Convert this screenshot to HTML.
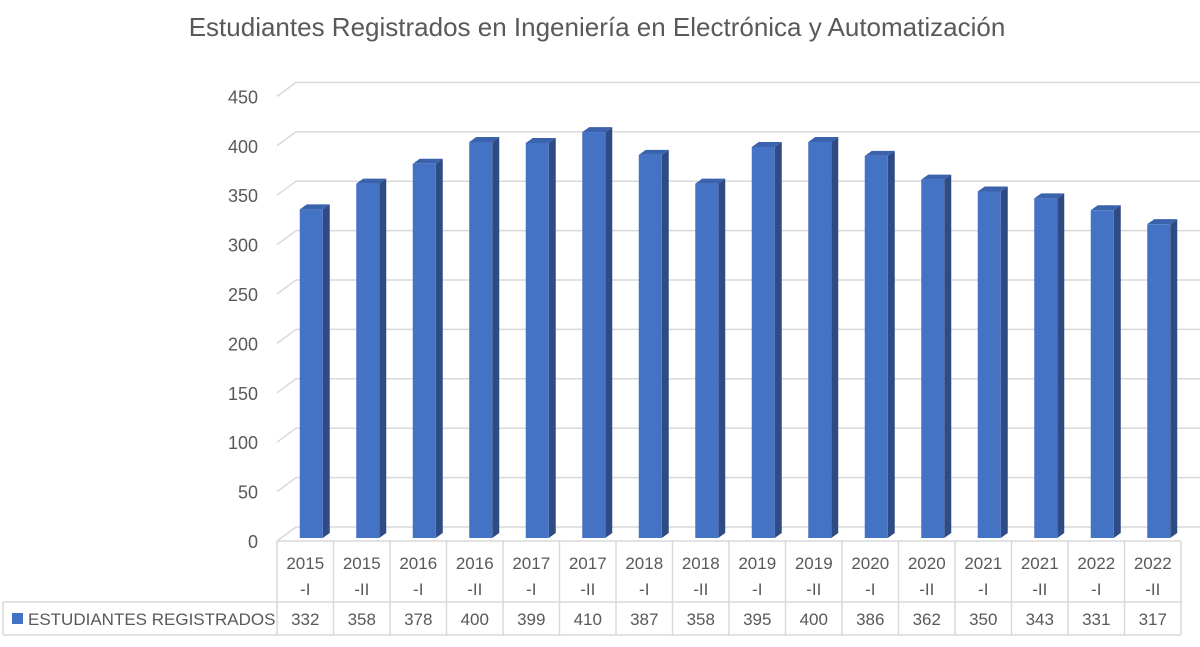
<!DOCTYPE html>
<html><head><meta charset="utf-8"><style>
body{margin:0;background:#fff;width:1200px;height:642px;overflow:hidden;font-family:"Liberation Sans",sans-serif}
</style></head><body>
<svg id="chart" width="1200" height="642" xmlns="http://www.w3.org/2000/svg" font-family="Liberation Sans, sans-serif">
<text x="597" y="36" text-anchor="middle" font-size="26" fill="#595959">Estudiantes Registrados en Ingeniería en Electrónica y Automatización</text>
<g id="grid"></g><g id="bars"></g><g id="table"></g>
</svg>
<script>
const categories=["2015|-I","2015|-II","2016|-I","2016|-II","2017|-I","2017|-II","2018|-I","2018|-II","2019|-I","2019|-II","2020|-I","2020|-II","2021|-I","2021|-II","2022|-I","2022|-II"];
const values=[332,358,378,400,399,410,387,358,395,400,386,362,350,343,331,317];
const yTicks=[0,50,100,150,200,250,300,350,400,450];
const seriesName="ESTUDIANTES REGISTRADOS";
const NS="http://www.w3.org/2000/svg";
function mk(t,a,p,txt){const e=document.createElementNS(NS,t);for(const k in a)e.setAttribute(k,a[k]);if(txt!==undefined)e.textContent=txt;p.appendChild(e);return e;}
const x0=277,colW=56.5,frontBase=541,backBase=527,pxPer=0.988,barBase=538,barScale=0.99;
const yFront=v=>frontBase-v*pxPer, yBack=v=>backBase-v*pxPer, yBar=v=>barBase-v*barScale;
const grid=document.getElementById('grid');
yTicks.forEach(t=>{
 const l=mk('polyline',{points:`${x0},${yFront(t)} ${x0+19},${yBack(t)} 1200,${yBack(t)}`,fill:'none',stroke:'#d9d9d9','stroke-width':1.5},grid);
 
 const tx=mk('text',{x:258,y:yFront(t)+7,'text-anchor':'end','font-size':18,fill:'#595959'},grid,String(t));
 
});
const bars=document.getElementById('bars');
values.forEach((v,i)=>{
 const cx=x0+colW*(i+0.5)+6, w=23, d=7, h=5, L=cx-w/2, top=yBar(v);
 const g=mk('g',{},bars);
 
 mk('polygon',{points:`${L+w},${top} ${L+w+d},${top-h} ${L+w+d},${barBase-h} ${L+w},${barBase}`,fill:'#2f4b83'},g);
 mk('polygon',{points:`${L},${top} ${L+d},${top-h} ${L+w+d},${top-h} ${L+w},${top}`,fill:'#3b63ad'},g);
 mk('rect',{x:L,y:top,width:w,height:barBase-top,fill:'#4472c4'},g);
});
const tb=document.getElementById('table');
const ln=(a,b,c,d)=>mk('line',{x1:a,y1:b,x2:c,y2:d,stroke:'#d9d9d9','stroke-width':1.5},tb);
const xEnd=x0+colW*16;
ln(x0,541,xEnd,541);ln(3,602,xEnd,602);ln(3,635,xEnd,635);ln(3,602,3,635);
for(let i=0;i<=16;i++)ln(x0+colW*i,541,x0+colW*i,635);
categories.forEach((c,i)=>{
 const cx=x0+colW*(i+0.5);const [a,b]=c.split('|');
 const t1=mk('text',{x:cx,y:569,'text-anchor':'middle','font-size':17,fill:'#595959'},tb,a);
 
 const t2=mk('text',{x:cx,y:595,'text-anchor':'middle','font-size':17,fill:'#595959'},tb,b);
 
 const t3=mk('text',{x:cx,y:625,'text-anchor':'middle','font-size':17,fill:'#595959'},tb,String(values[i]));
 
});
const key=mk('rect',{x:12,y:613,width:11,height:11,fill:'#4472c4'},tb);

const lt=mk('text',{x:28,y:625,'font-size':17,fill:'#595959'},tb,seriesName);

</script>
</body></html>
